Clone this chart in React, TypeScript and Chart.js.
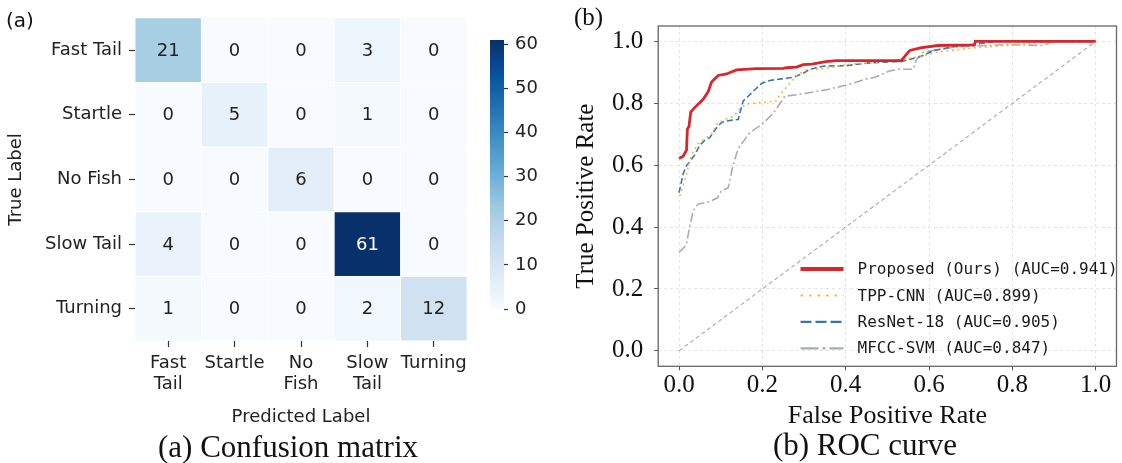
import React, { useEffect, useRef } from "react";
import { Chart, registerables } from "chart.js";

Chart.register(...registerables);

// ---------------- Confusion matrix data ----------------
const rowLabels = ["Fast Tail", "Startle", "No Fish", "Slow Tail", "Turning"];
const colLabels: (string | string[])[] = [["Fast", "Tail"], "Startle", ["No", "Fish"], ["Slow", "Tail"], "Turning"];
const rowFastTail = [21, 0, 0, 3, 0];
const rowStartle = [0, 5, 0, 1, 0];
const rowNoFish = [0, 0, 6, 0, 0];
const rowSlowTail = [4, 0, 0, 61, 0];
const rowTurning = [1, 0, 0, 2, 12];
const cmValues = [rowFastTail, rowStartle, rowNoFish, rowSlowTail, rowTurning];
const colorbarMax = 61;
const colorbarTicks = [0, 10, 20, 30, 40, 50, 60];

// ---------------- ROC data ----------------
const rocTicks = [0, 0.2, 0.4, 0.6, 0.8, 1.0];

const proposedFpr = [0, 0.01, 0.018, 0.02, 0.024, 0.028, 0.038, 0.058, 0.07, 0.078, 0.094, 0.114, 0.138, 0.186, 0.25, 0.258, 0.282, 0.298, 0.319, 0.352, 0.378, 0.533, 0.554, 0.579, 0.621, 0.709, 0.711, 1.0];
const proposedTpr = [0.622, 0.629, 0.649, 0.716, 0.726, 0.772, 0.787, 0.813, 0.838, 0.869, 0.89, 0.895, 0.908, 0.912, 0.913, 0.915, 0.917, 0.925, 0.927, 0.935, 0.938, 0.938, 0.971, 0.979, 0.987, 0.989, 1.0, 1.0];

const tppFpr = [0.002, 0.014, 0.022, 0.03, 0.046, 0.066, 0.078, 0.09, 0.106, 0.13, 0.146, 0.162, 0.202, 0.234, 0.242, 0.258, 0.282, 0.306, 0.338, 0.402, 0.53, 0.579, 0.621, 0.705, 0.789, 0.872, 0.931, 1.0];
const tppTpr = [0.501, 0.552, 0.593, 0.634, 0.67, 0.69, 0.7, 0.731, 0.746, 0.757, 0.782, 0.798, 0.803, 0.808, 0.828, 0.852, 0.89, 0.908, 0.91, 0.925, 0.94, 0.951, 0.966, 0.979, 0.987, 0.997, 1.0, 1.0];

const resnetFpr = [0, 0.01, 0.018, 0.038, 0.05, 0.062, 0.074, 0.09, 0.102, 0.118, 0.142, 0.154, 0.166, 0.182, 0.198, 0.218, 0.25, 0.274, 0.298, 0.314, 0.346, 0.402, 0.45, 0.514, 0.533, 0.579, 0.612, 0.663, 0.713, 0.763, 1.0];
const resnetTpr = [0.511, 0.573, 0.598, 0.634, 0.665, 0.681, 0.69, 0.721, 0.738, 0.744, 0.748, 0.808, 0.823, 0.844, 0.864, 0.874, 0.88, 0.884, 0.897, 0.91, 0.92, 0.922, 0.93, 0.935, 0.935, 0.951, 0.971, 0.984, 0.992, 1.0, 1.0];

const mfccFpr = [0, 0.017, 0.025, 0.034, 0.046, 0.067, 0.092, 0.101, 0.118, 0.13, 0.142, 0.17, 0.197, 0.226, 0.254, 0.29, 0.354, 0.402, 0.45, 0.47, 0.506, 0.529, 0.562, 0.57, 0.587, 0.663, 0.789, 0.872, 0.898, 1.0];
const mfccTpr = [0.318, 0.341, 0.397, 0.453, 0.475, 0.479, 0.494, 0.516, 0.527, 0.602, 0.654, 0.706, 0.73, 0.767, 0.823, 0.829, 0.844, 0.859, 0.879, 0.884, 0.905, 0.91, 0.91, 0.941, 0.966, 0.982, 0.99, 0.987, 1.0, 1.0];

const chanceFpr = [0, 1];
const chanceTpr = [0, 1];

const legendLabels = [
  "Proposed (Ours) (AUC=0.941)",
  "TPP-CNN (AUC=0.899)",
  "ResNet-18 (AUC=0.905)",
  "MFCC-SVM (AUC=0.847)",
];

// ---------------- helpers ----------------
const BLUES = [
  [247, 251, 255],
  [222, 235, 247],
  [198, 219, 239],
  [158, 202, 225],
  [107, 174, 214],
  [66, 146, 198],
  [33, 113, 181],
  [8, 81, 156],
  [8, 48, 107],
];
function blues(t: number): string {
  const tt = Math.max(0, Math.min(1, t));
  const p = tt * (BLUES.length - 1);
  const i = Math.min(BLUES.length - 2, Math.floor(p));
  const f = p - i;
  const a = BLUES[i];
  const b = BLUES[i + 1];
  const c = a.map((v, k) => Math.round(v + (b[k] - v) * f));
  return `rgb(${c[0]},${c[1]},${c[2]})`;
}
const zip = (xs: number[], ys: number[]) => xs.map((x, i) => ({ x, y: ys[i] }));

const SANS = "'DejaVu Sans', sans-serif";
const SERIF = "'Liberation Serif', 'Times New Roman', serif";
const MONO = "'DejaVu Sans Mono', monospace";
const TXT = "#222222";
const FS = 18;

export default function App() {
  const cmRef = useRef<HTMLCanvasElement>(null);
  const cbRef = useRef<HTMLCanvasElement>(null);
  const rocRef = useRef<HTMLCanvasElement>(null);

  useEffect(() => {
    const charts: Chart[] = [];

    // ---------- Confusion matrix heatmap ----------
    const cellText = {
      id: "cellText",
      afterDatasetsDraw(chart: any) {
        const ctx = chart.ctx;
        ctx.save();
        ctx.font = `${FS}px ${SANS}`;
        ctx.textAlign = "center";
        ctx.textBaseline = "middle";
        chart.data.datasets.forEach((_: any, r: number) => {
          const meta = chart.getDatasetMeta(r);
          meta.data.forEach((el: any, c: number) => {
            const v = cmValues[r][c];
            ctx.fillStyle = v / colorbarMax > 0.6 ? "#ffffff" : TXT;
            ctx.fillText(String(v), el.x, (el.y + el.base) / 2 + 1);
          });
        });
        ctx.restore();
      },
    };

    charts.push(
      new Chart(cmRef.current!, {
        type: "bar",
        data: {
          labels: colLabels as any,
          datasets: cmValues.map((row, r) => ({
            label: rowLabels[r],
            data: row.map(() => [r, r + 1]),
            backgroundColor: row.map((v) => blues(v / colorbarMax)),
            borderColor: "#ffffff",
            borderWidth: 0.8,
            borderSkipped: false,
            grouped: false,
            barPercentage: 1,
            categoryPercentage: 1,
          })) as any,
        },
        options: {
          animation: false,
          responsive: false,
          events: [],
          layout: { padding: { top: 7, right: 93, left: 0, bottom: 0 } },
          plugins: { legend: { display: false }, tooltip: { enabled: false } },
          scales: {
            x: {
              type: "category",
              grid: { drawOnChartArea: false, offset: false, tickLength: 6, tickColor: "#333", tickWidth: 1.2 },
              border: { display: false },
              ticks: { font: { family: SANS, size: FS, lineHeight: 1.17 }, color: TXT, padding: 6, maxRotation: 0, autoSkip: false },
              title: { display: true, text: "Predicted Label", font: { family: SANS, size: FS, lineHeight: 1.2 }, color: TXT, padding: { top: 0, bottom: 35 } },
              afterFit: (s: any) => { s.height = 122; },
            },
            y: {
              type: "linear",
              min: 0,
              max: 5,
              reverse: true,
              afterBuildTicks: (s: any) => { s.ticks = rowLabels.map((_, i) => ({ value: i + 0.5 })); },
              ticks: { callback: (v: any) => rowLabels[Math.floor(Number(v))], font: { family: SANS, size: FS }, color: TXT, padding: 7, autoSkip: false },
              grid: { drawOnChartArea: false, tickLength: 6, tickColor: "#333", tickWidth: 1.2 },
              border: { display: false },
              title: { display: true, text: "True Label", font: { family: SANS, size: FS, lineHeight: 1.2 }, color: TXT, padding: { top: 6, bottom: 0 } },
              afterFit: (s: any) => { s.width = 135; },
            },
          },
        } as any,
        plugins: [cellText],
      })
    );

    // ---------- Colorbar ----------
    charts.push(
      new Chart(cbRef.current!, {
        type: "bar",
        data: {
          labels: [""],
          datasets: [
            {
              data: [[0, colorbarMax]] as any,
              backgroundColor: (c: any) => {
                const ca = c.chart.chartArea;
                if (!ca) return blues(0);
                const g = c.chart.ctx.createLinearGradient(0, ca.bottom, 0, ca.top);
                BLUES.forEach((_, i) => g.addColorStop(i / (BLUES.length - 1), blues(i / (BLUES.length - 1))));
                return g;
              },
              borderWidth: 0,
              barPercentage: 1,
              categoryPercentage: 1,
            } as any,
          ],
        },
        options: {
          animation: false,
          responsive: false,
          events: [],
          layout: { padding: { top: 40, right: 0, left: 20, bottom: 154 } },
          plugins: { legend: { display: false }, tooltip: { enabled: false } },
          scales: {
            x: { display: false },
            y: {
              position: "right",
              min: 0,
              max: colorbarMax,
              afterBuildTicks: (s: any) => { s.ticks = colorbarTicks.map((v) => ({ value: v })); },
              ticks: { font: { family: SANS, size: FS }, color: TXT, padding: 7, autoSkip: false },
              grid: { drawOnChartArea: false, tickLength: 4, tickColor: "#333", tickWidth: 1.2 },
              border: { display: false },
              afterFit: (s: any) => { s.width = 66; },
            },
          },
        } as any,
      })
    );

    // ---------- ROC ----------
    const frame = {
      id: "frame",
      afterDatasetsDraw(chart: any) {
        const { ctx, chartArea: ca } = chart;
        ctx.save();
        ctx.strokeStyle = "#666666";
        ctx.lineWidth = 1.3;
        ctx.strokeRect(ca.left, ca.top, ca.right - ca.left, ca.bottom - ca.top);
        ctx.restore();
      },
    };
    const rocLegend = {
      id: "rocLegend",
      afterDraw(chart: any) {
        const { ctx, chartArea: ca } = chart;
        ctx.save();
        ctx.font = `16px ${MONO}`;
        ctx.textBaseline = "middle";
        ctx.textAlign = "left";
        legendLabels.forEach((label, i) => {
          const ds = chart.data.datasets[i];
          const y = ca.bottom - 18 - (legendLabels.length - 1 - i) * 26.4;
          const x0 = ca.right - 316;
          ctx.strokeStyle = ds.borderColor;
          ctx.lineWidth = i === 0 ? 4 : ds.borderWidth + 0.6;
          ctx.setLineDash(ds.legendDash || ds.borderDash || []);
          ctx.beginPath();
          ctx.moveTo(x0, y);
          ctx.lineTo(x0 + 43, y);
          ctx.stroke();
          ctx.setLineDash([]);
          ctx.fillStyle = "#1a1a1a";
          ctx.fillText(label, ca.right - 259, y + 1);
        });
        ctx.restore();
      },
    };

    const lineBase = { pointRadius: 0, tension: 0, fill: false };
    charts.push(
      new Chart(rocRef.current!, {
        type: "line",
        data: {
          datasets: [
            { ...lineBase, label: legendLabels[0], data: zip(proposedFpr, proposedTpr), borderColor: "#d9262b", borderWidth: 2.8 },
            { ...lineBase, label: legendLabels[1], data: zip(tppFpr, tppTpr), borderColor: "#f3b843", borderWidth: 1.6, borderDash: [2, 3.5], legendDash: [2.5, 6] },
            { ...lineBase, label: legendLabels[2], data: zip(resnetFpr, resnetTpr), borderColor: "#3a76a6", borderWidth: 1.6, borderDash: [6, 3], legendDash: [11, 4] },
            { ...lineBase, label: legendLabels[3], data: zip(mfccFpr, mfccTpr), borderColor: "#a6aeb8", borderWidth: 1.6, borderDash: [9, 3, 2, 3], legendDash: [18, 4, 3, 4] },
            { ...lineBase, label: "chance", data: zip(chanceFpr, chanceTpr), borderColor: "#aaaaaa", borderWidth: 1.1, borderDash: [4, 3] },
          ] as any,
        },
        options: {
          animation: false,
          responsive: false,
          events: [],
          layout: { padding: { top: 7.3, right: 5.5, left: 0, bottom: 0 } },
          plugins: { legend: { display: false }, tooltip: { enabled: false } },
          scales: {
            x: {
              type: "linear",
              min: -0.05,
              max: 1.05,
              afterBuildTicks: (s: any) => { s.ticks = rocTicks.map((v) => ({ value: v })); },
              ticks: { callback: (v: any) => Number(v).toFixed(1), font: { family: SERIF, size: 25, lineHeight: 1 }, color: "#111", padding: 3, autoSkip: false, maxRotation: 0 },
              grid: { color: "#dddddd", lineWidth: 0.8, tickLength: 4, tickColor: "#555", tickWidth: 1, tickBorderDash: [] },
              border: { display: false, dash: [3, 3] },
              title: { display: true, text: "False Positive Rate", font: { family: SERIF, size: 26, lineHeight: 1.2 }, color: "#111", padding: { top: 0, bottom: 31 } },
              afterFit: (s: any) => { s.height = 96.7; },
            },
            y: {
              type: "linear",
              min: -0.05,
              max: 1.05,
              afterBuildTicks: (s: any) => { s.ticks = rocTicks.map((v) => ({ value: v })); },
              ticks: { callback: (v: any) => Number(v).toFixed(1), font: { family: SERIF, size: 25 }, color: "#111", padding: 11, autoSkip: false },
              grid: { color: "#dddddd", lineWidth: 0.8, tickLength: 4, tickColor: "#555", tickWidth: 1, tickBorderDash: [] },
              border: { display: false, dash: [3, 3] },
              title: { display: true, text: "True Positive Rate", font: { family: SERIF, size: 25, lineHeight: 1.2 }, color: "#111", padding: { top: 11, bottom: 0 } },
              afterFit: (s: any) => { s.width = 98.2; },
            },
          },
        } as any,
        plugins: [frame, rocLegend],
      })
    );

    return () => charts.forEach((c) => c.destroy());
  }, []);

  const abs = (l: number, t: number): React.CSSProperties => ({ position: "absolute", left: l, top: t });

  return (
    <div style={{ position: "fixed", left: 0, top: 0, width: 1122, height: 463, background: "#ffffff", overflow: "hidden" }}>
      <canvas ref={cmRef} width={560} height={463} style={{ ...abs(0, 0), width: 560, height: 463 }} />
      <canvas ref={cbRef} width={100} height={463} style={{ ...abs(470, 0), width: 100, height: 463 }} />
      <canvas ref={rocRef} width={562} height={463} style={{ ...abs(560, 0), width: 562, height: 463 }} />
      <div style={{ ...abs(6, 8), font: `20px ${SANS}`, lineHeight: "24px", color: "#111" }}>(a)</div>
      <div style={{ ...abs(574, 2), font: `25px ${SERIF}`, lineHeight: "30px", color: "#111" }}>(b)</div>
      <div style={{ ...abs(88, 429), width: 400, textAlign: "center", font: `31px ${SERIF}`, lineHeight: "36px", color: "#111" }}>(a) Confusion matrix</div>
      <div style={{ ...abs(665, 427), width: 400, textAlign: "center", font: `31px ${SERIF}`, lineHeight: "36px", color: "#111" }}>(b) ROC curve</div>
    </div>
  );
}
